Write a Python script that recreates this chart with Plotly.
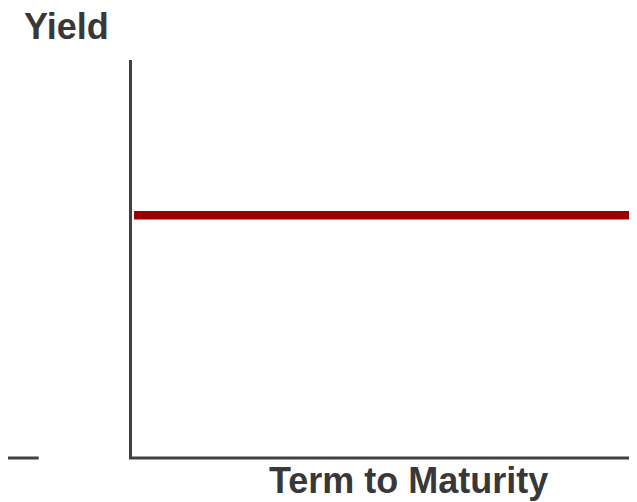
import plotly.graph_objects as go

# Data: a flat yield curve
terms = [0, 30]          # term to maturity (years)
yields = [5.0, 5.0]      # yield (%)

x_label = "Term to Maturity"
y_label = "Yield"

W, H = 637, 502
L, R, T, B = 124, 0, 52, 52
PW, PH = W - L - R, H - T - B

def px(xp):
    return (xp - L) / PW

def py(yp):
    return (H - B - yp) / PH

AXIS_COLOR = "#404040"
TEXT_COLOR = "#383838"
FONT = "Liberation Sans, Arial, sans-serif"

fig = go.Figure()
fig.add_trace(go.Scatter(
    x=terms, y=yields, mode="lines",
    line=dict(color="#990000", width=8.5),
    hoverinfo="skip", showlegend=False,
))

fig.update_layout(
    width=W, height=H,
    margin=dict(l=L, r=R, t=T, b=B),
    paper_bgcolor="white", plot_bgcolor="white",
    xaxis=dict(range=[-0.12, 30], showgrid=False, zeroline=False,
               showticklabels=False, ticks="", showline=False),
    yaxis=dict(range=[0, 8.2], showgrid=False, zeroline=False,
               showticklabels=False, ticks="", showline=True,
               linecolor=AXIS_COLOR, linewidth=3),
    shapes=[
        dict(type="line", xref="paper", yref="paper",
             x0=px(121), x1=px(631), y0=py(450), y1=py(450),
             line=dict(color=AXIS_COLOR, width=3)),
        dict(type="line", xref="paper", yref="paper",
             x0=px(0), x1=px(30.7), y0=py(450), y1=py(450),
             line=dict(color=AXIS_COLOR, width=3)),
    ],
    annotations=[
        dict(text=y_label, xref="paper", yref="paper",
             x=px(14), y=py(19), xanchor="left", yanchor="middle",
             showarrow=False,
             font=dict(family=FONT, size=36, color=TEXT_COLOR, weight="bold")),
        dict(text=x_label, xref="paper", yref="paper",
             x=px(400), y=py(472.5), xanchor="center", yanchor="middle",
             showarrow=False,
             font=dict(family=FONT, size=36, color=TEXT_COLOR, weight="bold")),
    ],
)

fig.write_html("out.html")
